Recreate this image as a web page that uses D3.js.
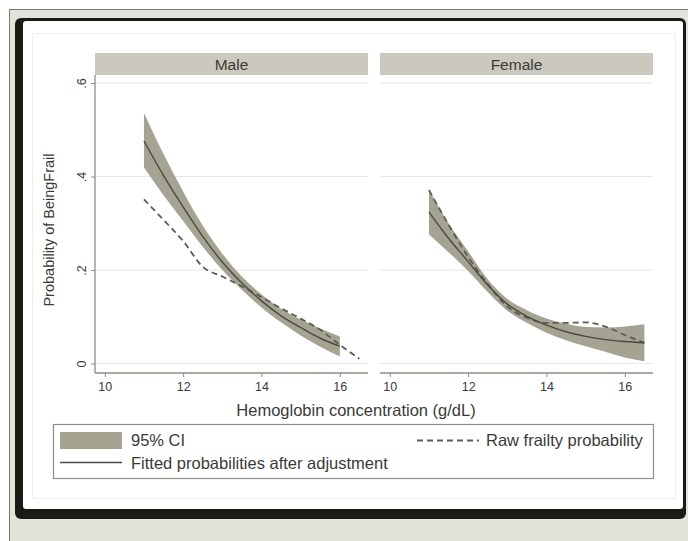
<!DOCTYPE html>
<html lang="en">
<head>
    <meta charset="UTF-8">
    <title>Frailty by hemoglobin</title>
    <script src="https://cdn.jsdelivr.net/npm/d3@7/dist/d3.min.js"></script>
    <style>
        body { margin: 0; background: #fff; }
        svg { display: block; font-family: "Liberation Sans", Arial, sans-serif; }
    </style>
</head>
<body>
<svg id="chart" width="688" height="541"></svg>
<script>
    // hemoglobin grid (g/dL)
    var hbFit = [11, 11.5, 12, 12.5, 13, 13.5, 14, 14.5, 15, 15.5, 16];
    var hbFitF = [11, 11.5, 12, 12.5, 13, 13.5, 14, 14.5, 15, 15.5, 16, 16.5];
    var hbRaw = [11, 11.5, 12, 12.5, 13, 13.5, 14, 14.5, 15, 15.5, 16, 16.5];

    // male
    var maleFit = [0.476, 0.402, 0.335, 0.272, 0.217, 0.172, 0.134, 0.102, 0.077, 0.054, 0.037];
    var maleLo = [0.419, 0.360, 0.305, 0.250, 0.200, 0.158, 0.120, 0.088, 0.060, 0.036, 0.015];
    var maleHi = [0.536, 0.448, 0.368, 0.295, 0.235, 0.186, 0.148, 0.117, 0.094, 0.075, 0.058];
    var maleRaw = [0.351, 0.307, 0.262, 0.207, 0.186, 0.165, 0.142, 0.118, 0.096, 0.072, 0.040, 0.010];

    // female
    var femaleFit = [0.324, 0.268, 0.218, 0.168, 0.127, 0.101, 0.082, 0.068, 0.058, 0.051, 0.047, 0.044];
    var femaleLo = [0.276, 0.238, 0.198, 0.153, 0.113, 0.087, 0.066, 0.050, 0.037, 0.025, 0.013, 0.005];
    var femaleHi = [0.372, 0.300, 0.240, 0.180, 0.138, 0.114, 0.096, 0.085, 0.078, 0.077, 0.079, 0.084];
    var femaleRaw = [0.371, 0.297, 0.228, 0.170, 0.122, 0.098, 0.087, 0.087, 0.088, 0.079, 0.061, 0.044];

    var xTicks = [10, 12, 14, 16];
    var yTicks = [0, 0.2, 0.4, 0.6];
    var yTickLabels = ["0", ".2", ".4", ".6"];

    var panels = [
        {name: "Male", x0: 95, x1: 368, hbFit: hbFit, fit: maleFit, lo: maleLo, hi: maleHi, raw: maleRaw},
        {name: "Female", x0: 380, x1: 653, hbFit: hbFitF, fit: femaleFit, lo: femaleLo, hi: femaleHi, raw: femaleRaw}
    ];

    var svg = d3.select("#chart");
    var txt = "#3a3a36";
    var bandCol = "#a5a392";

    // outer grey page + framed graph
    svg.append("rect").attr("x", 9.5).attr("y", 9.5).attr("width", 700).attr("height", 560)
        .attr("fill", "#e3e3dc").attr("stroke", "#7a7a74");
    svg.append("rect").attr("x", 15).attr("y", 18).attr("width", 671).attr("height", 501)
        .attr("rx", 6).attr("fill", "#1b1b16");
    svg.append("rect").attr("x", 23).attr("y", 21).attr("width", 660).attr("height", 488)
        .attr("rx", 3).attr("fill", "#fff");
    svg.append("rect").attr("x", 32.5).attr("y", 33.5).attr("width", 643).attr("height", 465)
        .attr("fill", "none").attr("stroke", "#efefea");

    var y = d3.scaleLinear().domain([0, 0.6]).range([363.5, 83]);

    panels.forEach(function (p, i) {
        var x = d3.scaleLinear().domain([9.75, 16.72]).range([p.x0, p.x1]);
        var g = svg.append("g");

        // header strip
        g.append("rect").attr("x", p.x0).attr("y", 53).attr("width", p.x1 - p.x0).attr("height", 22)
            .attr("fill", "#cbc9bf");
        g.append("text").attr("x", (p.x0 + p.x1) / 2).attr("y", 69.5)
            .attr("text-anchor", "middle").attr("font-size", 15.5).attr("fill", txt).text(p.name);

        // grid
        g.selectAll(".grid").data(yTicks).enter().append("line")
            .attr("x1", p.x0).attr("x2", p.x1)
            .attr("y1", function (d) { return y(d); }).attr("y2", function (d) { return y(d); })
            .attr("stroke", "#e7e9df").attr("stroke-width", 1.2);

        // ci band
        var idx = d3.range(p.hbFit.length);
        g.append("path").datum(idx)
            .attr("d", d3.area()
                .x(function (k) { return x(p.hbFit[k]); })
                .y0(function (k) { return y(p.lo[k]); })
                .y1(function (k) { return y(p.hi[k]); })
                .curve(d3.curveMonotoneX))
            .attr("fill", bandCol);

        // raw
        g.append("path").datum(d3.range(hbRaw.length))
            .attr("d", d3.line()
                .x(function (k) { return x(hbRaw[k]); })
                .y(function (k) { return y(p.raw[k]); })
                .curve(d3.curveMonotoneX))
            .attr("fill", "none").attr("stroke", "#5c5c52").attr("stroke-width", 1.8)
            .attr("stroke-dasharray", "6,4");

        // fitted
        g.append("path").datum(idx)
            .attr("d", d3.line()
                .x(function (k) { return x(p.hbFit[k]); })
                .y(function (k) { return y(p.fit[k]); })
                .curve(d3.curveMonotoneX))
            .attr("fill", "none").attr("stroke", "#4a4a42").attr("stroke-width", 1.4);

        // x axis
        var xa = g.append("g").attr("transform", "translate(0,373)")
            .call(d3.axisBottom(x).tickValues(xTicks).tickSize(4).tickPadding(5).tickFormat(d3.format("d")));
        xa.select(".domain").attr("d", "M" + p.x0 + ",0H" + p.x1).attr("stroke", "#8e8e84").attr("stroke-width", 1.3);
        xa.selectAll(".tick line").attr("stroke", "#8e8e84");
        xa.selectAll(".tick text").attr("font-size", 12.5).attr("fill", txt);
        xa.attr("font-family", null);

        if (i === 0) {
            var ya = g.append("g").attr("transform", "translate(95,0)")
                .call(d3.axisLeft(y).tickValues(yTicks).tickSize(4)
                    .tickFormat(function (d, j) { return yTickLabels[j]; }));
            ya.select(".domain").attr("d", "M0,75V373").attr("stroke", "#8e8e84").attr("stroke-width", 1.3);
            ya.selectAll(".tick line").attr("stroke", "#8e8e84");
            ya.selectAll(".tick text").attr("font-size", 12.5).attr("fill", txt)
                .attr("x", null)
                .attr("text-anchor", "middle")
                .attr("transform", "translate(-13,0) rotate(-90)")
                .attr("dy", "0.35em");
            ya.attr("font-family", null);
        }
    });

    // axis titles
    svg.append("text").attr("transform", "translate(54,230) rotate(-90)")
        .attr("text-anchor", "middle").attr("font-size", 14.5).attr("fill", txt)
        .text("Probability of BeingFrail");
    svg.append("text").attr("x", 356).attr("y", 416)
        .attr("text-anchor", "middle").attr("font-size", 16.5).attr("fill", txt)
        .text("Hemoglobin concentration (g/dL)");

    // legend
    var lg = svg.append("g");
    lg.append("rect").attr("x", 53.5).attr("y", 424.5).attr("width", 600).attr("height", 54)
        .attr("fill", "#fff").attr("stroke", "#8e8e84").attr("stroke-width", 1.2);
    lg.append("rect").attr("x", 60).attr("y", 432).attr("width", 62).attr("height", 17).attr("fill", bandCol);
    lg.append("text").attr("x", 131).attr("y", 446).attr("font-size", 16.5).attr("fill", txt).text("95% CI");
    lg.append("line").attr("x1", 60).attr("x2", 122).attr("y1", 462.5).attr("y2", 462.5)
        .attr("stroke", "#4a4a42").attr("stroke-width", 1.4);
    lg.append("text").attr("x", 131).attr("y", 468.5).attr("font-size", 16.5).attr("fill", txt)
        .text("Fitted probabilities after adjustment");
    lg.append("line").attr("x1", 417).attr("x2", 479).attr("y1", 440.5).attr("y2", 440.5)
        .attr("stroke", "#5c5c52").attr("stroke-width", 1.8).attr("stroke-dasharray", "6,4");
    lg.append("text").attr("x", 486).attr("y", 446).attr("font-size", 16.5).attr("fill", txt)
        .text("Raw frailty probability");
</script>
</body>
</html>
